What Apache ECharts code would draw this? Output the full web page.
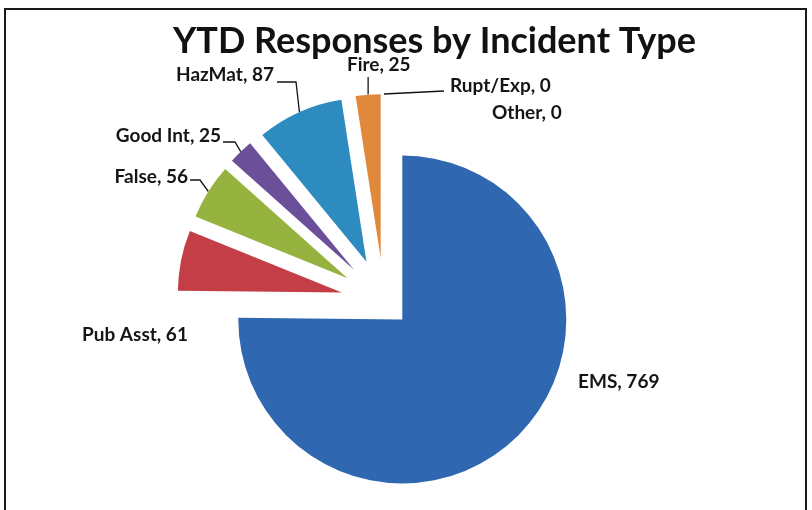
<!DOCTYPE html>
<html><head><meta charset="utf-8">
<script src="https://cdn.jsdelivr.net/npm/echarts@6/dist/echarts.min.js"></script>
<style>html,body{margin:0;padding:0;background:#fff}#c{width:812px;height:510px}</style>
</head><body><div id="c"></div>
<script>
// ---- data ----
const categories = ['EMS', 'Pub Asst', 'False', 'Good Int', 'HazMat', 'Fire', 'Rupt/Exp', 'Other'];
const values = [769, 61, 56, 25, 87, 25, 0, 0];
const colors = ['#2f67b0', '#c43e48', '#97b33f', '#6b4f98', '#2d8bc0', '#e0893d', '#4bacc6', '#f79646'];
const titleText = 'YTD Responses by Incident Type';

// ---- layout ----
const pieCenter = [384, 301];
const pieRadius = 164;
const explodeDist = { 'EMS': 26 };
const defaultExplode = 43;
const FONT = 'Lato, "Open Sans", sans-serif';
const labelPlace = {
  'EMS':      { x: 578, y: 382, align: 'left' },
  'Pub Asst': { x: 82,  y: 335, align: 'left' },
  'False':    { x: 188, y: 177, align: 'right', line: [[200, 180], [190, 180]] },
  'Good Int': { x: 221, y: 136, align: 'right', line: [[235, 142], [223, 142]] },
  'HazMat':   { x: 274, y: 75,  align: 'right', line: [[296, 82], [277, 82]] },
  'Fire':     { x: 347, y: 65,  align: 'left',  line: 'vertical', top: 77 },
  'Rupt/Exp': { x: 450, y: 86,  align: 'left',  line: [[444, 91]] },
  'Other':    { x: 492, y: 113, align: 'left' }
};

const total = values.reduce((a, b) => a + b, 0);
let cum = 0;
const geo = values.map((v, i) => {
  const a0 = cum / total * 2 * Math.PI;
  cum += v;
  const a1 = cum / total * 2 * Math.PI;
  const mid = (a0 + a1) / 2;
  const dir = [Math.sin(mid), -Math.cos(mid)];
  const off = explodeDist[categories[i]] != null ? explodeDist[categories[i]] : defaultExplode;
  const c = [pieCenter[0] + off * dir[0], pieCenter[1] + off * dir[1]];
  const arc = [c[0] + pieRadius * dir[0], c[1] + pieRadius * dir[1]];
  return { center: c, arc: arc };
});

const series = categories.map((name, i) => {
  const lp = labelPlace[name];
  return {
    type: 'pie',
    name: name,
    center: geo[i].center,
    radius: pieRadius,
    startAngle: 90,
    clockwise: true,
    silent: true,
    animation: false,
    avoidLabelOverlap: false,
    minShowLabelAngle: 0,
    itemStyle: { borderWidth: 0 },
    label: {
      position: 'outside',
      formatter: '{b}, {c}',
      fontFamily: FONT, fontWeight: 'bold', fontSize: 19, color: '#151515'
    },
    labelLine: { show: true, lineStyle: { color: '#151515', width: 1.3 } },
    emphasis: { disabled: true },
    data: categories.map((n, j) => ({
      name: n,
      value: values[j],
      itemStyle: { color: j === i ? colors[j] : 'rgba(0,0,0,0)' },
      label: { show: j === i },
      labelLine: { show: j === i && !!lp.line }
    })),
    labelLayout: function (p) {
      if (p.dataIndex !== i) return {};
      const out = { x: lp.x, y: lp.y, align: lp.align, verticalAlign: 'middle' };
      if (lp.line === 'vertical') {
        out.labelLinePoints = [geo[i].arc, [geo[i].arc[0], lp.top], [geo[i].arc[0], lp.top]];
      } else if (lp.line) {
        const pts = [geo[i].arc].concat(lp.line);
        while (pts.length < 3) pts.push(pts[pts.length - 1]);
        out.labelLinePoints = pts;
      }
      return out;
    }
  };
});

const chart = echarts.init(document.getElementById('c'), null, { renderer: 'canvas' });
chart.setOption({
  backgroundColor: '#ffffff',
  animation: false,
  title: {
    text: titleText,
    left: 168, top: 18,
    textStyle: { fontFamily: FONT, fontWeight: 'bold', fontSize: 36, color: '#111' }
  },
  graphic: [{
    type: 'rect', silent: true, z: -1,
    shape: { x: 5, y: 9, width: 801, height: 520 },
    style: { fill: 'none', stroke: '#1a1a1a', lineWidth: 2 }
  }],
  series: series
});
</script></body></html>
